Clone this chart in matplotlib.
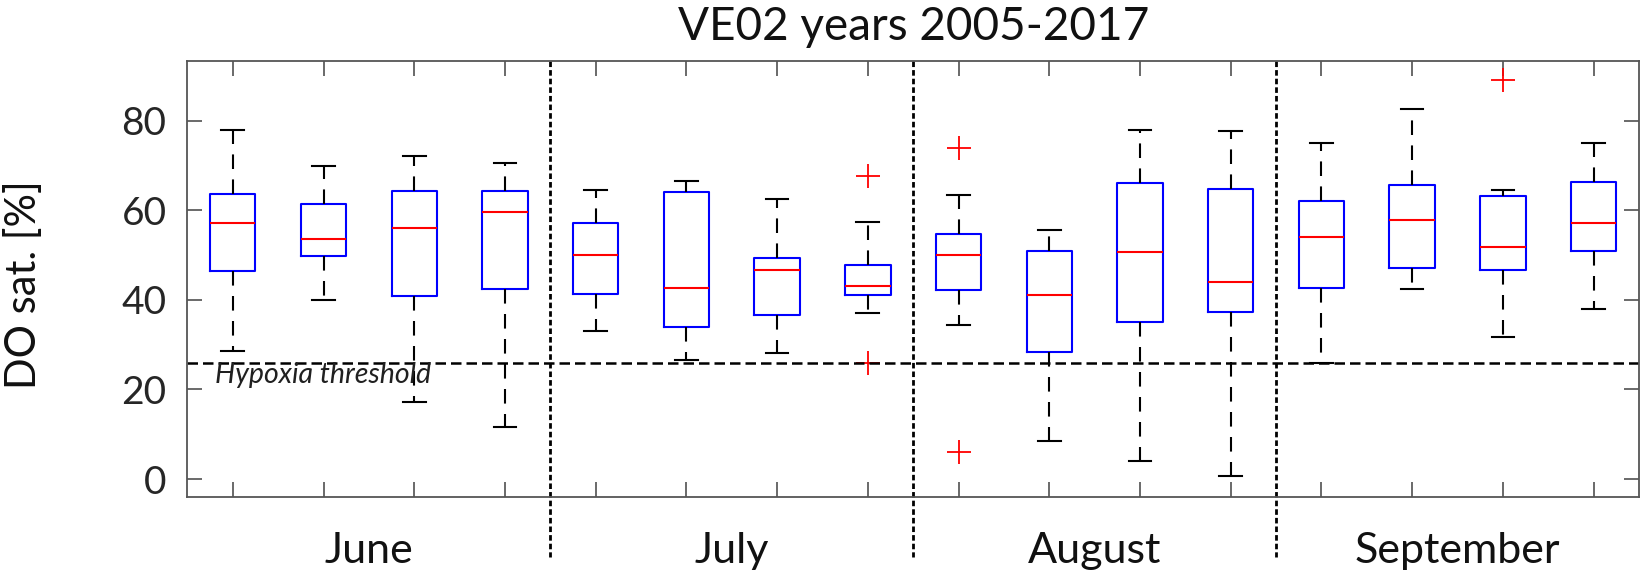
import matplotlib.pyplot as plt
import matplotlib.transforms as mtransforms

# box statistics, 4 boxes per month
months = ["June", "July", "August", "September"]
whislo = [28.5, 40.0, 17.2, 11.7, 33.0, 26.6, 28.2, 37.1,
          34.5, 8.6, 4.0, 0.7, 26.0, 42.5, 31.8, 37.9]
q1 = [46.5, 49.9, 40.8, 42.5, 41.2, 34.0, 36.6, 41.1,
      42.3, 28.4, 35.0, 37.2, 42.6, 47.2, 46.6, 51.0]
med = [57.2, 53.6, 56.0, 59.5, 50.0, 42.7, 46.7, 43.2,
       50.0, 41.1, 50.6, 44.0, 54.0, 57.9, 51.8, 57.2]
q3 = [63.7, 61.3, 64.3, 64.3, 57.1, 64.0, 49.3, 47.8,
      54.6, 51.0, 66.1, 64.8, 62.0, 65.6, 63.2, 66.3]
whishi = [77.8, 69.8, 72.1, 70.6, 64.6, 66.6, 62.5, 57.3,
          63.5, 55.7, 77.8, 77.7, 74.9, 82.7, 64.6, 75.1]
fliers = [[], [], [], [], [], [], [], [67.6, 26.0],
          [74.0, 6.0], [], [], [], [], [], [89.0], []]
hypoxia = 26.0

plt.rcParams['font.family'] = ["Lato", "DejaVu Sans"]

stats = []
for i in range(len(med)):
    stats.append(dict(whislo=whislo[i], q1=q1[i], med=med[i], q3=q3[i],
                      whishi=whishi[i], fliers=fliers[i]))

fig = plt.figure(figsize=(16.5, 5.77), dpi=100)
ax = fig.add_axes([0.1136, 0.1386, 0.8797, 0.7556])

pos = list(range(1, len(med) + 1))
ax.bxp(stats, positions=pos, widths=0.5, capwidths=0.25,
       boxprops=dict(color='blue', linewidth=1.5),
       medianprops=dict(color='red', linewidth=1.5),
       whiskerprops=dict(color='black', linewidth=1.5, linestyle=(0, (7, 5))),
       capprops=dict(color='black', linewidth=1.5),
       flierprops=dict(marker='+', markeredgecolor='red', markersize=17,
                       markeredgewidth=1.3, linestyle='none'))

ax.set_xlim(0.5, 16.5)
ax.set_ylim(-4, 93.3)

# hypoxia threshold line and label
ax.axhline(hypoxia, color='black', linewidth=1.8, linestyle=(0, (4.2, 2)))
ax.text(0.8, hypoxia - 4.5, "Hypoxia threshold", fontsize=20.5, style='italic',
        va='baseline', ha='left', color='#202020')

# month separators, running below the axes
trans = mtransforms.blended_transform_factory(ax.transData, ax.transAxes)
for xs in [4.5, 8.5, 12.5]:
    ax.plot([xs, xs], [1.0, -0.138], transform=trans, color='black',
            linewidth=2, linestyle=(0, (2, 1.1)), clip_on=False)

for k, m in enumerate(months):
    ax.text(2.5 + 4 * k, -0.151, m, transform=trans, ha='center', va='baseline',
            fontsize=31, color='#111111')

ax.set_xticks(pos)
ax.set_xticklabels([])
ax.set_yticks([0, 20, 40, 60, 80])
ax.tick_params(direction='in', length=11, width=1.2, colors='#505050',
               labelcolor='#262626', labelsize=28, top=True, right=True, pad=15)
for s in ax.spines.values():
    s.set_color('#555555')
    s.set_linewidth(1.3)

fig.text(24 / 1650, 1 - 285 / 577, "DO sat. [%]", rotation=90, ha='center',
         va='center', fontsize=30, color='#111111')
fig.text(0.1136 + 0.8797 / 2, 1 - 40 / 577, "VE02 years 2005-2017", ha='center',
         va='baseline', fontsize=33, color='#111111')

fig.savefig("out.png", dpi=100)
